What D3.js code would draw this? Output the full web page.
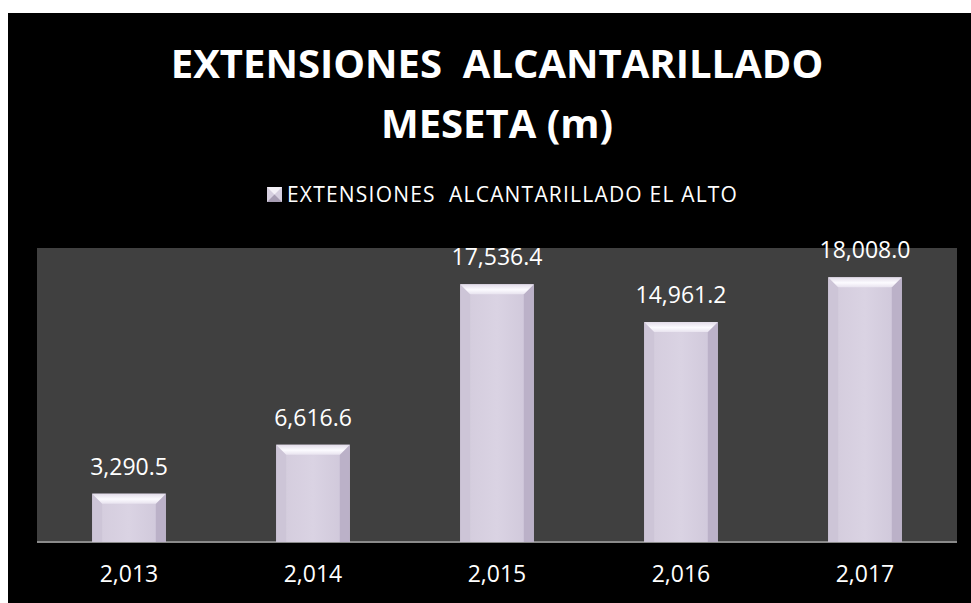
<!DOCTYPE html>
<html>
<head>
<meta charset="utf-8">
<script src="https://cdn.jsdelivr.net/npm/d3@7"></script>
<style>
  body { margin: 0; background: #fff; }
  text { font-family: "Open Sans", sans-serif; fill: #fff; white-space: pre; }
</style>
</head>
<body>
<svg id="chart" width="971" height="603"></svg>
<script>
'use strict';

var years = ['2,013', '2,014', '2,015', '2,016', '2,017'];
var lengths = [3290.5, 6616.6, 17536.4, 14961.2, 18008.0];
var titleLines = ['EXTENSIONES  ALCANTARILLADO', 'MESETA (m)'];
var seriesName = 'EXTENSIONES  ALCANTARILLADO EL ALTO';

var svg = d3.select('#chart');
var W = 971, H = 603;

// black chart area
svg.append('rect').attr('x', 8).attr('y', 13).attr('width', W - 8).attr('height', H - 13).attr('fill', '#000');

var plot = {left: 37, top: 248, right: 957, bottom: 542};

var x = d3.scaleBand()
  .domain(years)
  .range([plot.left, plot.right])
  .paddingInner(0.6)
  .paddingOuter(0.3);

var y = d3.scaleLinear()
  .domain([0, 20000])
  .range([plot.bottom, plot.top]);

// gradients
var defs = svg.append('defs');
var g1 = defs.append('linearGradient').attr('id', 'barFill').attr('x1', 0).attr('x2', 1).attr('y1', 0).attr('y2', 0);
g1.append('stop').attr('offset', '0%').attr('stop-color', '#d3cbdc');
g1.append('stop').attr('offset', '50%').attr('stop-color', '#dad3e3');
g1.append('stop').attr('offset', '100%').attr('stop-color', '#cec6d9');
var g2 = defs.append('linearGradient').attr('id', 'topBevel').attr('x1', 0).attr('x2', 0).attr('y1', 0).attr('y2', 1);
g2.append('stop').attr('offset', '0%').attr('stop-color', '#e2dce9');
g2.append('stop').attr('offset', '55%').attr('stop-color', '#fcfbff');
g2.append('stop').attr('offset', '100%').attr('stop-color', '#e8e3ef');

svg.append('rect')
  .attr('x', plot.left).attr('y', plot.top)
  .attr('width', plot.right - plot.left).attr('height', plot.bottom - plot.top)
  .attr('fill', '#404040');

// title
svg.append('g').selectAll('text')
  .data(titleLines)
  .enter().append('text')
  .attr('x', 497)
  .attr('y', function(d, i) { return 78 + i * 60; })
  .attr('text-anchor', 'middle')
  .style('font-size', '40px')
  .style('font-weight', 'bold')
  .text(function(d) { return d; });

// legend
var legend = svg.append('g').attr('transform', 'translate(267,187)');
legend.append('rect').attr('width', 15).attr('height', 15).attr('fill', '#d6cfdf');
legend.append('path').attr('d', 'M0,0 L15,0 L7.5,7.5 Z').attr('fill', '#f4f1f7');
legend.append('path').attr('d', 'M0,15 L15,15 L7.5,7.5 Z').attr('fill', '#a79db3');
legend.append('text')
  .attr('x', 20).attr('y', 15)
  .style('font-size', '21px')
  .style('letter-spacing', '1.2px')
  .text(seriesName);

// axis
var axis = svg.append('g')
  .attr('transform', 'translate(0,' + plot.bottom + ')')
  .call(d3.axisBottom(x).tickSize(0).tickPadding(24));
axis.select('.domain').attr('stroke', '#8a8a8a').attr('stroke-width', 2)
  .attr('d', 'M' + plot.left + ',0H' + plot.right);
axis.selectAll('text').style('font-size', '23px').attr('fill', '#fff')
  .style('font-family', '"Open Sans", sans-serif');

// bars with bevel
var bev = 10;
var bars = svg.append('g').selectAll('g')
  .data(lengths)
  .enter().append('g')
  .attr('transform', function(d, i) { return 'translate(' + x(years[i]) + ',' + y(d) + ')'; });

var bw = x.bandwidth();
bars.append('rect')
  .attr('width', bw)
  .attr('height', function(d) { return plot.bottom - y(d); })
  .attr('fill', 'url(#barFill)');

// left bevel
bars.append('path')
  .attr('d', function(d) {
    var h = plot.bottom - y(d);
    return 'M0,0 L' + bev + ',' + bev + ' L' + bev + ',' + h + ' L0,' + h + ' Z';
  })
  .attr('fill', '#cdc5d7');
// right bevel
bars.append('path')
  .attr('d', function(d) {
    var h = plot.bottom - y(d);
    return 'M' + bw + ',0 L' + (bw - bev) + ',' + bev + ' L' + (bw - bev) + ',' + h + ' L' + bw + ',' + h + ' Z';
  })
  .attr('fill', '#bbb1c8');
// top bevel
bars.append('path')
  .attr('d', 'M0,0 L' + bw + ',0 L' + (bw - bev) + ',' + bev + ' L' + bev + ',' + bev + ' Z')
  .attr('fill', 'url(#topBevel)');

// data labels
bars.append('text')
  .attr('x', bw / 2)
  .attr('y', -19)
  .attr('text-anchor', 'middle')
  .style('font-size', '23px')
  .text(function(d) { return d3.format(',.1f')(d); });
</script>
</body>
</html>
